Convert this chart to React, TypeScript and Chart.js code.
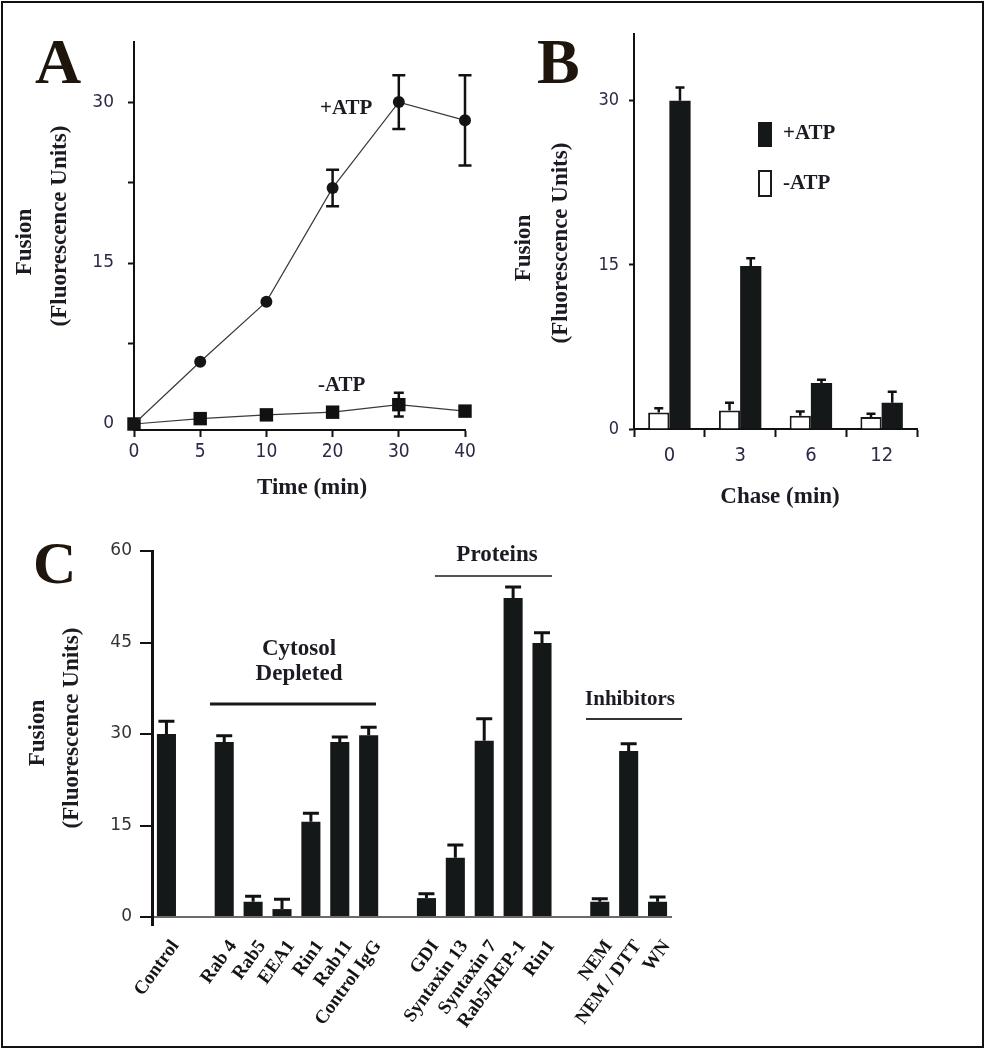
import React, { useEffect, useRef } from 'react';
import { Chart, registerables } from 'chart.js';

Chart.register(...registerables);

const W = 986;
const H = 1050;

// ---------- Panel A data ----------
const timeLabels = ['0', '5', '10', '20', '30', '40'];
const plusATP = [0, 5.8, 11.4, 22.0, 30.0, 28.3];
const plusATPErr = [0, 0, 0, 1.7, 2.5, 4.2];
const minusATP = [0, 0.5, 0.85, 1.1, 1.8, 1.2];
const minusATPErr = [0, 0, 0, 0, 1.1, 0];
const yTicksA = [0, 7.5, 15, 22.5, 30];
const yLabelsA = ['0', '', '15', '', '30'];

// ---------- Panel B data ----------
const chaseLabels = ['0', '3', '6', '12'];
const chasePlus = [30.0, 14.9, 4.2, 2.4];
const chasePlusErr = [1.2, 0.7, 0.3, 1.0];
const chaseMinus = [1.5, 1.7, 1.2, 1.1];
const chaseMinusErr = [0.4, 0.7, 0.4, 0.3];
const yTicksB = [0, 15, 30];

// ---------- Panel C data ----------
const conditionLabels = [
  'Control', '', 'Rab 4', 'Rab5', 'EEA1', 'Rin1', 'Rab11', 'Control IgG', '',
  'GDI', 'Syntaxin 13', 'Syntaxin 7', 'Rab5/REP-1', 'Rin1', '',
  'NEM', 'NEM / DTT', 'WN',
];
const fusionC = [30, null, 28.7, 2.5, 1.3, 15.6, 28.7, 29.8, null, 3.1, 9.7, 28.9, 52.3, 44.9, null, 2.5, 27.2, 2.5];
const fusionCErr = [2.1, null, 1.0, 0.9, 1.6, 1.4, 0.8, 1.3, null, 0.7, 2.1, 3.6, 1.8, 1.7, null, 0.5, 1.2, 0.8];
const yTicksC = [0, 15, 30, 45, 60];

// ---------- styling ----------
const INK = '#1b1b24';
const BAR = '#141818';
const SERIF = '"Liberation Serif", "DejaVu Serif", serif';
const NARROW = '"Liberation Sans Narrow", "DejaVu Sans Condensed", "Arial Narrow", sans-serif';
const WIDE = '"DejaVu Sans", Verdana, sans-serif';
const TICK_COLOR = '#2a2a48';

function txt(ctx: CanvasRenderingContext2D, s: string, x: number, y: number, font: string, opts: any = {}) {
  ctx.save();
  ctx.translate(x, y);
  if (opts.rot) ctx.rotate(opts.rot);
  ctx.font = font;
  ctx.fillStyle = opts.color || INK;
  ctx.textAlign = opts.align || 'center';
  ctx.textBaseline = opts.baseline || 'middle';
  ctx.fillText(s, 0, 0);
  ctx.restore();
}

function hline(ctx: CanvasRenderingContext2D, x1: number, x2: number, y: number, w: number, color: string) {
  ctx.save();
  ctx.strokeStyle = color;
  ctx.lineWidth = w;
  ctx.beginPath();
  ctx.moveTo(x1, y);
  ctx.lineTo(x2, y);
  ctx.stroke();
  ctx.restore();
}

const errorBarPlugin = {
  id: 'errorBars',
  afterDatasetsDraw(chart: any) {
    const ctx = chart.ctx;
    chart.data.datasets.forEach((ds: any, i: number) => {
      const err = ds.errPlus;
      if (!err) return;
      const meta = chart.getDatasetMeta(i);
      const yScale = chart.scales[meta.yAxisID];
      ctx.save();
      ctx.strokeStyle = ds.errColor || '#111';
      ctx.lineWidth = ds.errWidth || 2;
      meta.data.forEach((el: any, j: number) => {
        const v = ds.data[j];
        const e = err[j];
        if (v == null || !e) return;
        const top = yScale.getPixelForValue(v + e);
        const bottom = ds.errBoth ? yScale.getPixelForValue(v - e) : el.y;
        const x = el.x;
        const c = ds.errCap || 5;
        ctx.beginPath();
        ctx.moveTo(x, bottom);
        ctx.lineTo(x, top);
        ctx.moveTo(x - c, top);
        ctx.lineTo(x + c, top);
        if (ds.errBoth) {
          ctx.moveTo(x - c, bottom);
          ctx.lineTo(x + c, bottom);
        }
        ctx.stroke();
      });
      ctx.restore();
    });
  },
};

const TITLE_FONT = `bold 23px ${SERIF}`;
const LETTER_FONT = `bold 64px ${SERIF}`;

function configA(): any {
  return {
    type: 'line',
    data: {
      labels: timeLabels,
      datasets: [
        {
          label: '+ATP',
          data: plusATP,
          errPlus: plusATPErr,
          errBoth: true,
          errCap: 6.5,
          errWidth: 2.5,
          borderColor: '#3a3a3a',
          borderWidth: 1.2,
          pointStyle: 'circle',
          pointRadius: 6,
          pointBackgroundColor: '#151515',
          pointBorderColor: '#151515',
          pointBorderWidth: 0,
          tension: 0,
          clip: false,
        },
        {
          label: '-ATP',
          data: minusATP,
          errPlus: minusATPErr,
          errBoth: true,
          errCap: 5,
          errWidth: 2.5,
          borderColor: '#3a3a3a',
          borderWidth: 1.2,
          pointStyle: 'rect',
          pointRadius: 9.5,
          pointBackgroundColor: '#111',
          pointBorderColor: '#111',
          pointBorderWidth: 0,
          tension: 0,
          clip: false,
        },
      ],
    },
    options: {
      responsive: false,
      animation: false,
      events: [],
      layout: { padding: { left: 0, top: 42, right: W - 465, bottom: H - 430 - 40 } },
      plugins: { legend: { display: false }, tooltip: { enabled: false } },
      scales: {
        x: {
          type: 'category',
          offset: false,
          afterFit: (s: any) => { s.height = 40; },
          grid: { drawOnChartArea: false, tickLength: 7, tickColor: '#111', tickWidth: 2 },
          border: { color: '#111', width: 2 },
          ticks: { color: TICK_COLOR, font: { family: NARROW, size: 19 }, padding: 4, autoSkip: false, maxRotation: 0 },
        },
        y: {
          min: -0.56,
          max: 35.6,
          afterFit: (s: any) => { s.width = 134; },
          afterBuildTicks: (s: any) => { s.ticks = yTicksA.map((v) => ({ value: v })); },
          grid: { drawOnChartArea: false, tickLength: 6, tickColor: '#111', tickWidth: 2 },
          border: { color: '#111', width: 2 },
          ticks: {
            color: TICK_COLOR,
            font: { family: WIDE, size: 17 },
            padding: 14,
            callback: (_v: any, i: number) => yLabelsA[i],
          },
        },
      },
    },
    plugins: [
      errorBarPlugin,
      {
        id: 'annA',
        afterDraw(chart: any) {
          const ctx = chart.ctx;
          txt(ctx, 'A', 35, 83, LETTER_FONT, { align: 'left', baseline: 'alphabetic', color: '#1e160c' });
          txt(ctx, 'Fusion', 25, 242, TITLE_FONT, { rot: -Math.PI / 2 });
          txt(ctx, '(Fluorescence Units)', 60, 226, TITLE_FONT, { rot: -Math.PI / 2 });
          txt(ctx, 'Time (min)', 312, 488, TITLE_FONT);
          txt(ctx, '+ATP', 320, 109, `bold 21px ${SERIF}`, { align: 'left' });
          txt(ctx, '-ATP', 318, 386, `bold 21px ${SERIF}`, { align: 'left' });
        },
      },
    ],
  };
}

function configB(): any {
  return {
    type: 'bar',
    data: {
      labels: chaseLabels,
      datasets: [
        {
          label: '-ATP',
          data: chaseMinus,
          errPlus: chaseMinusErr,
          errCap: 4.5,
          errWidth: 2.5,
          backgroundColor: '#ffffff',
          borderColor: '#1a1a1a',
          borderWidth: 2,
          categoryPercentage: 0.6,
          barPercentage: 1.0,
        },
        {
          label: '+ATP',
          data: chasePlus,
          errPlus: chasePlusErr,
          errCap: 4.5,
          errWidth: 2.5,
          backgroundColor: BAR,
          borderWidth: 0,
          categoryPercentage: 0.6,
          barPercentage: 1.0,
        },
      ],
    },
    options: {
      responsive: false,
      animation: false,
      events: [],
      layout: { padding: { left: 0, top: 34, right: W - 917, bottom: H - 429 - 40 } },
      plugins: { legend: { display: false }, tooltip: { enabled: false } },
      scales: {
        x: {
          type: 'category',
          offset: true,
          afterFit: (s: any) => { s.height = 40; },
          grid: { offset: true, drawOnChartArea: false, tickLength: 8, tickColor: '#111', tickWidth: 2 },
          border: { color: '#111', width: 2 },
          ticks: { color: TICK_COLOR, font: { family: NARROW, size: 20 }, padding: 7, autoSkip: false, maxRotation: 0 },
        },
        y: {
          min: 0,
          max: 36.1,
          afterFit: (s: any) => { s.width = 634; },
          afterBuildTicks: (s: any) => { s.ticks = yTicksB.map((v) => ({ value: v })); },
          grid: { drawOnChartArea: false, tickLength: 5, tickColor: '#111', tickWidth: 2 },
          border: { color: '#111', width: 2 },
          ticks: { color: TICK_COLOR, font: { family: NARROW, size: 18 }, padding: 10 },
        },
      },
    },
    plugins: [
      errorBarPlugin,
      {
        id: 'annB',
        afterDraw(chart: any) {
          const ctx = chart.ctx;
          txt(ctx, 'B', 537, 83, LETTER_FONT, { align: 'left', baseline: 'alphabetic', color: '#1e160c' });
          txt(ctx, 'Fusion', 524, 248, TITLE_FONT, { rot: -Math.PI / 2 });
          txt(ctx, '(Fluorescence Units)', 561, 243, TITLE_FONT, { rot: -Math.PI / 2 });
          txt(ctx, 'Chase (min)', 780, 497, TITLE_FONT);
          ctx.save();
          ctx.fillStyle = BAR;
          ctx.fillRect(758, 122, 14, 25);
          ctx.fillStyle = '#fff';
          ctx.strokeStyle = '#1a1a1a';
          ctx.lineWidth = 2;
          ctx.fillRect(759, 171, 12, 25);
          ctx.strokeRect(759, 171, 12, 25);
          ctx.restore();
          txt(ctx, '+ATP', 783, 134, `bold 21px ${SERIF}`, { align: 'left' });
          txt(ctx, '-ATP', 783, 184, `bold 21px ${SERIF}`, { align: 'left' });
        },
      },
    ],
  };
}

function configC(): any {
  return {
    type: 'bar',
    data: {
      labels: conditionLabels,
      datasets: [
        {
          label: 'Fusion',
          data: fusionC,
          errPlus: fusionCErr,
          errCap: 8,
          errWidth: 3,
          backgroundColor: BAR,
          borderWidth: 0,
          categoryPercentage: 1,
          barPercentage: 0.66,
        },
      ],
    },
    options: {
      responsive: false,
      animation: false,
      events: [],
      layout: { padding: { left: 0, top: 551, right: W - 672, bottom: 15 } },
      plugins: { legend: { display: false }, tooltip: { enabled: false } },
      scales: {
        x: {
          type: 'category',
          offset: true,
          afterFit: (s: any) => { s.height = H - 925 - 15; },
          grid: { display: false },
          border: { display: false },
          ticks: {
            color: '#151515',
            font: { family: SERIF, size: 19, weight: 'bold' },
            padding: 3,
            autoSkip: false,
            minRotation: 54,
            maxRotation: 54,
            labelOffset: 9,
          },
        },
        y: {
          min: -1.31,
          max: 60,
          afterFit: (s: any) => { s.width = 152; },
          afterBuildTicks: (s: any) => { s.ticks = yTicksC.map((v) => ({ value: v })); },
          grid: {
            drawOnChartArea: true,
            color: (c: any) => (c.tick && c.tick.value === 0 ? '#6a6a6a' : 'rgba(0,0,0,0)'),
            lineWidth: 2,
            tickLength: 12,
            tickColor: '#111',
            tickWidth: 2,
          },
          border: { color: '#111', width: 3 },
          ticks: { color: '#333', font: { family: WIDE, size: 17 }, padding: 8 },
        },
      },
    },
    plugins: [
      errorBarPlugin,
      {
        id: 'annC',
        afterDraw(chart: any) {
          const ctx = chart.ctx;
          txt(ctx, 'C', 33, 583, `bold 60px ${SERIF}`, { align: 'left', baseline: 'alphabetic', color: '#1e160c' });
          txt(ctx, 'Fusion', 38, 733, TITLE_FONT, { rot: -Math.PI / 2 });
          txt(ctx, '(Fluorescence Units)', 72, 728, TITLE_FONT, { rot: -Math.PI / 2 });
          txt(ctx, 'Cytosol', 299, 649, TITLE_FONT);
          txt(ctx, 'Depleted', 299, 674, TITLE_FONT);
          hline(ctx, 210, 376, 704, 3, '#1a1a1a');
          txt(ctx, 'Proteins', 497, 555, TITLE_FONT);
          hline(ctx, 435, 552, 576, 2, '#555');
          txt(ctx, 'Inhibitors', 630, 700, `bold 21px ${SERIF}`);
          hline(ctx, 586, 682, 719, 2, '#333');
        },
      },
    ],
  };
}

export default function App() {
  const aRef = useRef<HTMLCanvasElement>(null);
  const bRef = useRef<HTMLCanvasElement>(null);
  const cRef = useRef<HTMLCanvasElement>(null);

  useEffect(() => {
    const charts = [
      new Chart(aRef.current as HTMLCanvasElement, configA()),
      new Chart(bRef.current as HTMLCanvasElement, configB()),
      new Chart(cRef.current as HTMLCanvasElement, configC()),
    ];
    return () => charts.forEach((c) => c.destroy());
  }, []);

  const cs: React.CSSProperties = { position: 'absolute', left: 0, top: 0 };
  return (
    <div style={{ position: 'absolute', left: 0, top: 0, width: W, height: H, background: '#fff', overflow: 'hidden' }}>
      <div
        style={{
          position: 'absolute', left: 1, top: 1, width: 983, height: 1047,
          border: '2px solid #111', boxSizing: 'border-box',
        }}
      />
      <canvas ref={aRef} width={W} height={H} style={cs} />
      <canvas ref={bRef} width={W} height={H} style={cs} />
      <canvas ref={cRef} width={W} height={H} style={cs} />
    </div>
  );
}
